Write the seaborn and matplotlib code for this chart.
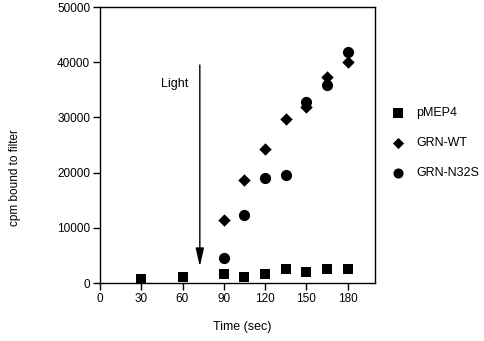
import matplotlib
matplotlib.use("Agg")
import matplotlib.pyplot as plt
import seaborn as sns
import pandas as pd

time_sec = [30, 60, 90, 105, 120, 135, 150, 165, 180]
pmep4 = [800, 1030, 1630, 1150, 1690, 2540, 1930, 2480, 2600]
grn_wt_time = [90, 105, 120, 135, 150, 165, 180]
grn_wt = [11370, 18620, 24240, 29750, 31860, 37360, 40030]
grn_n32s_time = [90, 105, 120, 135, 150, 165, 180]
grn_n32s = [4530, 12330, 18980, 19530, 32830, 35910, 41780]
series_names = ["pMEP4", "GRN-WT", "GRN-N32S"]
x_ticks = [0, 30, 60, 90, 120, 150, 180]
y_ticks = [0, 10000, 20000, 30000, 40000, 50000]
light_time = 72.6
light_top = 39500
light_bottom = 3000

df = pd.concat([
    pd.DataFrame({"time": time_sec, "cpm": pmep4, "series": series_names[0]}),
    pd.DataFrame({"time": grn_wt_time, "cpm": grn_wt, "series": series_names[1]}),
    pd.DataFrame({"time": grn_n32s_time, "cpm": grn_n32s, "series": series_names[2]}),
])

sns.set_style("ticks")
plt.rcParams["font.family"] = ["Liberation Sans", "DejaVu Sans"]
plt.rcParams["font.size"] = 9
plt.rcParams["text.color"] = "black"
plt.rcParams["axes.labelcolor"] = "black"
plt.rcParams["xtick.color"] = "black"
plt.rcParams["ytick.color"] = "black"

fig = plt.figure(figsize=(4.84, 3.41), dpi=100)
ax = fig.add_axes([100/484, 1-283/341, 275/484, 276/341])

markers = {"pMEP4": "s", "GRN-WT": "D", "GRN-N32S": "o"}
sizes = {"pMEP4": 55, "GRN-WT": 40, "GRN-N32S": 65}
for name in series_names:
    sub = df[df["series"] == name]
    sns.scatterplot(data=sub, x="time", y="cpm", marker=markers[name], s=sizes[name],
                    color="black", edgecolor="black", linewidth=0, ax=ax, label=name)

ax.set_xlim(0, 200)
ax.set_ylim(0, 50000)
ax.set_xticks(x_ticks)
ax.set_yticks(y_ticks)
ax.tick_params(direction="out", length=5, width=1, labelsize=8.5, colors="black", pad=2)
for sp in ax.spines.values():
    sp.set_linewidth(1)
    sp.set_color("black")
ax.set_xlabel("")
ax.set_ylabel("")
fig.text(242/484, 1-327/341, "Time (sec)", ha="center", va="center", fontsize=9, color="black")
fig.text(15/484, 1-178/341, "cpm bound to filter", ha="center", va="center", rotation=90,
         fontsize=8.5, color="black")

ax.annotate("", xy=(light_time, light_bottom), xytext=(light_time, light_top),
            arrowprops=dict(arrowstyle="-|>,head_width=0.25,head_length=1.1", color="black", lw=1,
                            shrinkA=0, shrinkB=0, mutation_scale=10))
ax.text(54.5, 36100, "Light", ha="center", va="center", fontsize=9, color="black")

leg = ax.legend(frameon=False, loc="upper left", bbox_to_anchor=(385/484, 1-107/341),
                bbox_transform=fig.transFigure, handletextpad=0.5, labelspacing=1.45,
                borderpad=0, borderaxespad=0, fontsize=9, markerscale=0.9)
for t in leg.get_texts():
    t.set_color("black")

fig.savefig("out.png", dpi=100)
